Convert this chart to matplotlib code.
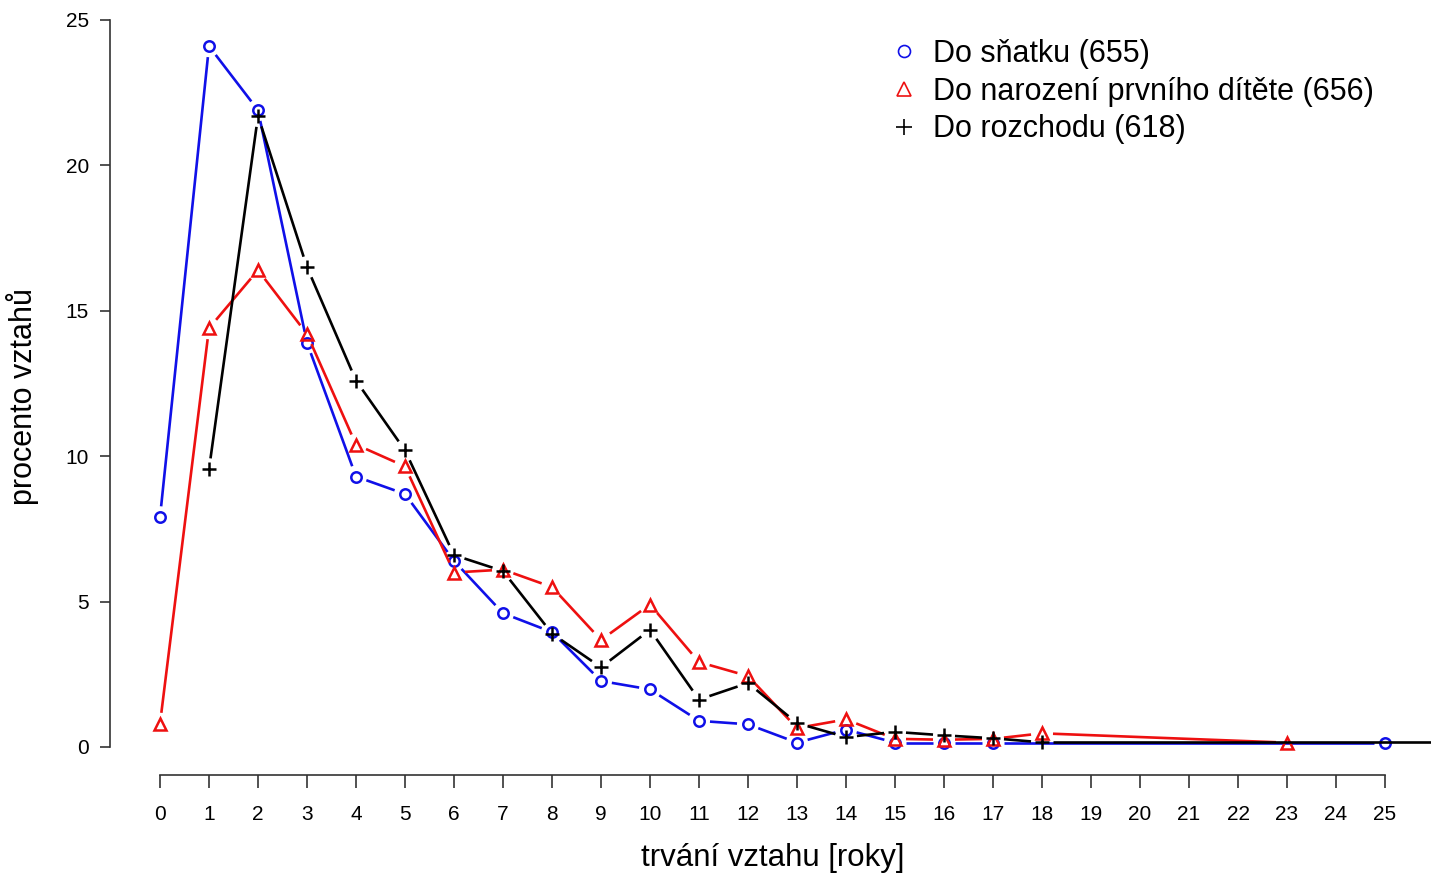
import numpy as np
import matplotlib
matplotlib.use("Agg")
import matplotlib.pyplot as plt
from matplotlib.collections import LineCollection
from matplotlib.lines import Line2D

plt.rcParams["font.family"] = ["Liberation Sans", "DejaVu Sans"]

# data (percent of relationships by duration)
roky_snatek = [0, 1, 2, 3, 4, 5, 6, 7, 8, 9, 10, 11, 12, 13, 14, 15, 16, 17, 25]
do_snatku = [7.9, 24.1, 21.9, 13.9, 9.3, 8.7, 6.4, 4.6, 3.95, 2.27, 1.98, 0.9, 0.78,
             0.15, 0.6, 0.15, 0.15, 0.15, 0.15]

roky_dite = [0, 1, 2, 3, 4, 5, 6, 7, 8, 9, 10, 11, 12, 13, 14, 15, 16, 17, 18, 23]
do_ditete = [0.8, 14.4, 16.4, 14.2, 10.4, 9.65, 6.0, 6.1, 5.5, 3.68, 4.9, 2.92, 2.44,
             0.65, 0.95, 0.28, 0.25, 0.28, 0.47, 0.15]

roky_rozchod = [1, 2, 3, 4, 5, 6, 7, 8, 9, 10, 11, 12, 13, 14, 15, 16, 17, 18, 28]
do_rozchodu = [9.55, 21.7, 16.5, 12.6, 10.2, 6.6, 6.05, 3.9, 2.74, 4.03, 1.63, 2.2,
               0.82, 0.34, 0.52, 0.4, 0.3, 0.16, 0.16]

labels = ["Do sňatku (655)", "Do narození prvního dítěte (656)", "Do rozchodu (618)"]
colors = ["#1010e8", "#ee1010", "black"]
markers = ["o", "^", "+"]
msizes = [7.5, 9, 10.5]

W, H = 1431, 874
fig = plt.figure(figsize=(W / 100, H / 100), dpi=100)
# axes box in pixels: left 110, right 1431, top 20, bottom 775
ax = fig.add_axes([110 / W, (H - 775) / H, (W - 110) / W, (775 - 20) / H])
ax.set_xlim(-50 / 49, (W - 160) / 49)
ax.set_ylim(-28 / 29.08, 25)

for s in ["top", "right"]:
    ax.spines[s].set_visible(False)
for s in ["left", "bottom"]:
    ax.spines[s].set_color("#333333")
    ax.spines[s].set_linewidth(1.2)
ax.spines["left"].set_bounds(0, 25)
ax.spines["bottom"].set_bounds(0, 25)

ax.set_xticks(range(0, 26))
ax.set_yticks(range(0, 26, 5))
ax.tick_params(axis="x", length=9.4, width=1.2, color="#333333", pad=12, labelsize=15)
ax.tick_params(axis="y", length=7.2, width=1.2, color="#333333", pad=8, labelsize=15)


def draw_gapped(xs, ys, color, gap=11):
    # R type="b": lines stop short of each point
    pts = ax.transData.transform(np.column_stack([xs, ys]))
    inv = ax.transData.inverted()
    segs = []
    for p0, p1 in zip(pts[:-1], pts[1:]):
        d = p1 - p0
        L = np.hypot(d[0], d[1])
        if L <= 2 * gap:
            continue
        u = d / L
        segs.append(inv.transform(np.array([p0 + u * gap, p1 - u * gap])))
    ax.add_collection(LineCollection(segs, colors=color, linewidths=1.9, capstyle="butt"))


series = [(roky_snatek, do_snatku), (roky_dite, do_ditete), (roky_rozchod, do_rozchodu)]
for (xs, ys), c, m, ms in zip(series, colors, markers, msizes):
    draw_gapped(xs, ys, c)
    ax.plot(xs, ys, linestyle="none", marker=m, markersize=ms, markerfacecolor="none",
            markeredgecolor=c, markeredgewidth=1.8)

handles = [Line2D([], [], linestyle="none", marker=m, markersize=ms * 1.15, markerfacecolor="none",
                  markeredgecolor=c, markeredgewidth=1.2)
           for c, m, ms in zip(colors, markers, msizes)]
fig.legend(handles, labels, loc="upper left", bbox_to_anchor=(889 / W, 1 - 39 / H),
           frameon=False, fontsize=22, handlelength=1.0, handletextpad=0.45,
           borderpad=0, borderaxespad=0, labelspacing=0.25)

fig.text(773 / W, 1 - 858 / H, "trvání vztahu [roky]", fontsize=22.5, ha="center", va="center")
fig.text(23 / W, 1 - 397 / H, "procento vztahů", fontsize=22, ha="center", va="center",
         rotation=90)

fig.savefig("out.png", dpi=100)
